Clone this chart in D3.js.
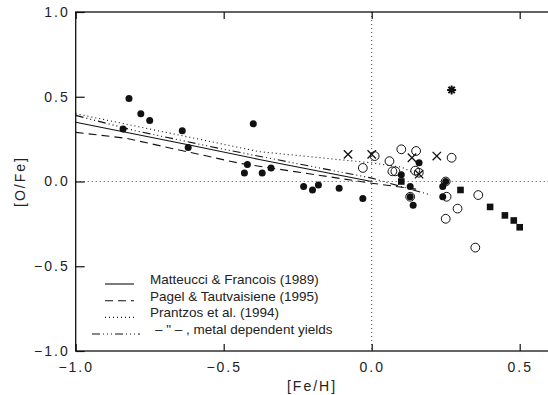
<!DOCTYPE html>
<html>
<head>
<meta charset="utf-8">
<script src="https://cdn.jsdelivr.net/npm/d3@7"></script>
<style>
  body { margin: 0; background: #fff; }
  text { font-family: "Liberation Sans", Arial, sans-serif; fill: #222; }
</style>
</head>
<body>
<div id="chart"></div>
<script>
/* ---- data ---- */
var filledDots = [
  [-0.82, 0.49], [-0.78, 0.40], [-0.75, 0.36], [-0.84, 0.31], [-0.64, 0.30],
  [-0.62, 0.20], [-0.40, 0.34], [-0.42, 0.10], [-0.43, 0.05], [-0.37, 0.05],
  [-0.34, 0.08], [-0.23, -0.03], [-0.20, -0.05], [-0.18, -0.02], [-0.11, -0.04],
  [-0.03, -0.10], [0.16, 0.11], [0.10, 0.04], [0.13, -0.03], [0.13, -0.09],
  [0.14, -0.14], [0.25, 0.00], [0.24, -0.03], [0.24, -0.09]
];
var openDots = [
  [0.01, 0.15], [-0.03, 0.08], [0.06, 0.12], [0.07, 0.06], [0.08, 0.06],
  [0.10, 0.19], [0.15, 0.18], [0.147, 0.064], [0.159, 0.052], [0.27, 0.14],
  [0.253, -0.09], [0.29, -0.16], [0.25, -0.22], [0.36, -0.08], [0.35, -0.39],
  [0.13, -0.09], [0.25, 0.00]
];
var crosses = [[-0.08, 0.16], [0.0, 0.16], [0.136, 0.14], [0.16, 0.043], [0.22, 0.15]];
var squares = [[0.10, 0.0], [0.30, -0.05], [0.40, -0.15], [0.45, -0.20], [0.48, -0.23], [0.50, -0.27]];
var stars = [[0.27, 0.54]];

var matteucci = [[-1.0, 0.35], [-0.62, 0.217], [-0.38, 0.13], [0.0, 0.0]];
var pagel = [[-1.0, 0.29], [-0.83, 0.255], [-0.445, 0.107], [0.0, -0.01], [0.15, -0.045]];
var prantzos = [[-1.0, 0.40], [-0.38, 0.176], [0.0, 0.11], [0.10, 0.085], [0.17, 0.03]];
var metalDep = [[-1.0, 0.39], [-0.8, 0.30], [-0.5, 0.19], [0.0, 0.02], [0.2, -0.08]];

var legendLabels = [
  "Matteucci & Francois (1989)",
  "Pagel & Tautvaisiene (1995)",
  "Prantzos et al. (1994)",
  "\u2013 \" \u2013 , metal dependent yields"
];
var xTicks = [-1.0, -0.5, 0.0, 0.5];
var yTicks = [-1.0, -0.5, 0.0, 0.5, 1.0];

/* ---- layout ---- */
var W = 548, H = 395;
var mLeft = 75.7, mRight = 549.3, mTop = 12, mBottom = 351;

var svg = d3.select("#chart").append("svg")
    .attr("width", W)
    .attr("height", H);

var x = d3.scaleLinear().domain([-1.0, 0.6]).range([mLeft, mRight]);
var y = d3.scaleLinear().domain([-1.0, 1.0]).range([mBottom, mTop]);
var fmt = d3.format(".1f");
var ink = "#111";

// zero reference lines
svg.append("line")
    .attr("x1", mLeft).attr("x2", mRight)
    .attr("y1", y(0)).attr("y2", y(0))
    .attr("stroke", "#444").attr("stroke-width", 1).attr("stroke-dasharray", "1,3");
svg.append("line")
    .attr("x1", x(0)).attr("x2", x(0))
    .attr("y1", mTop).attr("y2", mBottom)
    .attr("stroke", "#444").attr("stroke-width", 1).attr("stroke-dasharray", "1,3");

// axes
var gx = svg.append("g")
    .attr("transform", "translate(0," + mBottom + ")")
    .call(d3.axisBottom(x).tickValues(xTicks).tickFormat(fmt).tickSize(-7).tickPadding(11));
var gxt = svg.append("g")
    .attr("transform", "translate(0," + mTop + ")")
    .call(d3.axisTop(x).tickValues(xTicks).tickFormat("").tickSize(-7));
var gy = svg.append("g")
    .attr("transform", "translate(" + mLeft + ",0)")
    .call(d3.axisLeft(y).tickValues(yTicks).tickFormat(fmt).tickSize(-9).tickPadding(6));

[gx, gxt, gy].forEach(function(g) {
    g.select(".domain").remove();
    g.selectAll("line").attr("stroke", ink).attr("stroke-width", 1.2);
    g.selectAll("text")
        .style("font-family", "Liberation Sans, Arial, sans-serif")
        .style("font-size", "14px")
        .style("letter-spacing", "2px")
        .attr("fill", "#222");
});

// frame
svg.append("rect")
    .attr("x", mLeft).attr("y", mTop)
    .attr("width", mRight - mLeft).attr("height", mBottom - mTop)
    .attr("fill", "none").attr("stroke", ink).attr("stroke-width", 1.3);

// axis titles
svg.append("text")
    .attr("x", 312).attr("y", 391)
    .attr("text-anchor", "middle")
    .style("font-size", "14px").style("letter-spacing", "2px")
    .text("[Fe/H]");
svg.append("text")
    .attr("transform", "translate(25," + y(0) + ") rotate(-90)")
    .attr("text-anchor", "middle")
    .style("font-size", "14px").style("letter-spacing", "2px")
    .text("[O/Fe]");

// model curves
var line = d3.line()
    .x(function(d) { return x(d[0]); })
    .y(function(d) { return y(d[1]); });

var curves = [
  { data: matteucci, dash: null },
  { data: pagel, dash: "8,5" },
  { data: prantzos, dash: "1,3" },
  { data: metalDep, dash: "8,3,1,3,1,3,1,3" }
];

curves.forEach(function(c) {
    svg.append("path")
        .datum(c.data)
        .attr("d", line)
        .attr("fill", "none")
        .attr("stroke", ink)
        .attr("stroke-width", 1.1)
        .attr("stroke-dasharray", c.dash);
});

// markers
svg.selectAll(".fdot")
    .data(filledDots)
    .enter().append("circle")
    .attr("class", "fdot")
    .attr("cx", function(d) { return x(d[0]); })
    .attr("cy", function(d) { return y(d[1]); })
    .attr("r", 3.5)
    .attr("fill", ink);

svg.selectAll(".odot")
    .data(openDots)
    .enter().append("circle")
    .attr("class", "odot")
    .attr("cx", function(d) { return x(d[0]); })
    .attr("cy", function(d) { return y(d[1]); })
    .attr("r", 4.4)
    .attr("fill", "none")
    .attr("stroke", ink)
    .attr("stroke-width", 1);

svg.selectAll(".sq")
    .data(squares)
    .enter().append("rect")
    .attr("class", "sq")
    .attr("x", function(d) { return x(d[0]) - 3.3; })
    .attr("y", function(d) { return y(d[1]) - 3.3; })
    .attr("width", 6.6).attr("height", 6.6)
    .attr("fill", ink);

svg.selectAll(".cross")
    .data(crosses)
    .enter().append("path")
    .attr("class", "cross")
    .attr("d", function(d) {
        var cx = x(d[0]), cy = y(d[1]), s = 4.2;
        return "M" + (cx - s) + "," + (cy - s) + "L" + (cx + s) + "," + (cy + s) +
               "M" + (cx - s) + "," + (cy + s) + "L" + (cx + s) + "," + (cy - s);
    })
    .attr("stroke", ink).attr("stroke-width", 1.3).attr("fill", "none");

// asterisk marker
svg.selectAll(".star")
    .data(stars)
    .enter().append("path")
    .attr("class", "star")
    .attr("d", function(d) {
        var cx = x(d[0]), cy = y(d[1]), s = 4.5, p = "";
        for (var a = 0; a < 4; a++) {
            var ang = a * Math.PI / 4;
            p += "M" + (cx - s * Math.cos(ang)) + "," + (cy - s * Math.sin(ang)) +
                 "L" + (cx + s * Math.cos(ang)) + "," + (cy + s * Math.sin(ang));
        }
        return p;
    })
    .attr("stroke", ink).attr("stroke-width", 2).attr("fill", "none");

// legend
var legY = [284, 300.7, 317.4, 334];
var leg = svg.selectAll(".leg")
    .data(legendLabels)
    .enter().append("g")
    .attr("class", "leg")
    .attr("transform", function(d, i) { return "translate(0," + legY[i] + ")"; });

leg.append("line")
    .attr("x1", function(d, i) { return i === 3 ? 92 : 105; })
    .attr("x2", function(d, i) { return i === 3 ? 140 : 134; })
    .attr("y1", 0).attr("y2", 0)
    .attr("stroke", ink).attr("stroke-width", 1.1)
    .attr("stroke-dasharray", function(d, i) { return curves[i].dash; });

leg.append("text")
    .attr("x", function(d, i) { return i === 3 ? 155 : 150; })
    .attr("y", 0)
    .style("font-size", "13.5px")
    .text(function(d) { return d; });
</script>
</body>
</html>
